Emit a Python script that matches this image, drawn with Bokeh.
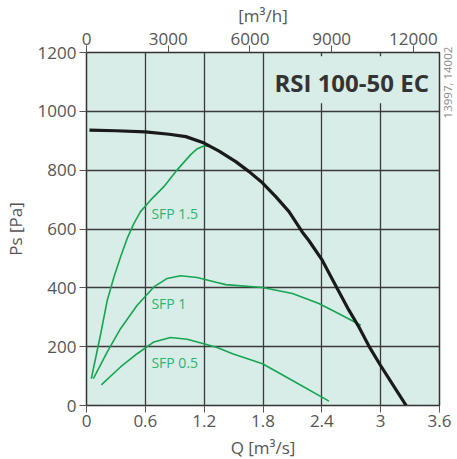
from math import pi
from bokeh.plotting import figure
from bokeh.models import Range1d, LinearAxis, FixedTicker, Label
from bokeh.embed import file_html
from bokeh.resources import INLINE

# Fan curve (Q in m3/s, Ps in Pa)
q_fan = [0.03, 0.3, 0.6, 0.843, 1.013, 1.2, 1.352, 1.522, 1.658, 1.794, 1.93, 2.065, 2.2, 2.269,
         2.404, 2.557, 2.676, 2.778, 2.88, 2.999, 3.117, 3.26]
p_fan = [936, 934, 930, 922, 914, 892, 865, 829, 795, 757, 710, 659, 590, 560,
         494, 398, 324, 267, 202, 136, 74, 0]

q_sfp15 = [0.049, 0.145, 0.212, 0.28, 0.347, 0.415, 0.484, 0.551, 0.653, 0.789, 0.925, 1.06, 1.13, 1.196, 1.268]
p_sfp15 = [91, 244, 358, 437, 505, 568, 619, 659, 698, 744, 801, 852, 873, 882, 880]

q_sfp1 = [0.07, 0.212, 0.347, 0.517, 0.687, 0.823, 0.958, 1.128, 1.332, 1.42, 1.795, 2.10, 2.37, 2.574, 2.797]
p_sfp1 = [91, 182, 261, 341, 403, 432, 441, 435, 418, 411, 401, 381, 347, 312, 273]

q_sfp05 = [0.151, 0.347, 0.517, 0.687, 0.856, 1.026, 1.196, 1.332, 1.49, 1.795, 2.10, 2.473]
p_sfp05 = [70, 131, 176, 216, 231, 225, 210, 197, 176, 142, 85, 15]

x_ticks = [0, 0.6, 1.2, 1.8, 2.4, 3.0, 3.6]
x_tick_labels = ["0", "0.6", "1.2", "1.8", "2.4", "3", "3.6"]
y_ticks = [0, 200, 400, 600, 800, 1000, 1200]
top_ticks = [0, 3000, 6000, 9000, 12000]

BG = "#d8ede8"
GREEN = "#16a550"
LABEL_GREEN = "#2fb36a"
TXT = "#555555"
FONT = "Open Sans"

p = figure(frame_width=353, frame_height=353, output_backend="svg", toolbar_location=None,
           x_range=Range1d(0, 3.6), y_range=Range1d(0, 1200),
           min_border_left=79, min_border_right=14, min_border_top=44, min_border_bottom=46)
p.background_fill_color = BG
p.border_fill_color = "white"
p.outline_line_color = "#333333"
p.outline_line_width = 1.5

p.extra_x_ranges = {"h": Range1d(0, 3.6 * 3600)}


def style_axis(ax):
    ax.major_tick_in = 0
    ax.major_tick_out = 7
    ax.minor_tick_line_color = None
    ax.major_tick_line_color = TXT
    ax.axis_line_color = "#333333"
    ax.major_label_text_font = FONT
    ax.major_label_text_font_size = "17px"
    ax.major_label_text_color = TXT
    ax.axis_label_text_font = FONT
    ax.axis_label_text_font_size = "17px"
    ax.axis_label_text_color = TXT
    ax.axis_label_text_font_style = "normal"


style_axis(p.xaxis[0])
style_axis(p.yaxis[0])

p.xaxis[0].ticker = FixedTicker(ticks=x_ticks)
p.xaxis[0].major_label_overrides = {t: s for t, s in zip(x_ticks, x_tick_labels)}
p.xaxis[0].axis_label = "Q [m³/s]"
p.xaxis[0].major_label_standoff = 2
p.xaxis[0].axis_label_standoff = 6

p.yaxis[0].ticker = FixedTicker(ticks=y_ticks)
p.yaxis[0].axis_label = "Ps [Pa]"
p.yaxis[0].major_label_standoff = 3
p.yaxis[0].axis_label_standoff = 8

top = LinearAxis(x_range_name="h", ticker=FixedTicker(ticks=top_ticks), axis_label="[m³/h]")
style_axis(top)
top.major_label_standoff = 1
top.axis_label_standoff = 3
p.add_layout(top, "above")

# small drawing number on the right edge, reading upwards
right = LinearAxis(ticker=FixedTicker(ticks=[976]), major_label_overrides={976: "13997, 14002"})
right.major_tick_line_color = None
right.minor_tick_line_color = None
right.axis_line_color = None
right.major_tick_out = 0
right.major_tick_in = 0
right.major_label_standoff = 8
right.major_label_orientation = pi / 2
right.major_label_text_font = FONT
right.major_label_text_font_size = "11.5px"
right.major_label_text_color = "#8a8a8a"
p.add_layout(right, "right")

p.xgrid.ticker = FixedTicker(ticks=x_ticks)
p.ygrid.ticker = FixedTicker(ticks=y_ticks)
for g in (p.xgrid[0], p.ygrid[0]):
    g.grid_line_color = "#3a3a3a"
    g.grid_line_width = 1.3

p.line(q_sfp05, p_sfp05, line_color=GREEN, line_width=1.6)
p.line(q_sfp1, p_sfp1, line_color=GREEN, line_width=1.6)
p.line(q_sfp15, p_sfp15, line_color=GREEN, line_width=1.6)
p.line(q_fan, p_fan, line_color="#1a1a1a", line_width=3.2)

for txt, x, y in (("SFP 1.5", 0.662, 651), ("SFP 1", 0.662, 347), ("SFP 0.5", 0.662, 146)):
    p.add_layout(Label(x=x, y=y, text=txt, text_font=FONT, text_font_size="14px",
                       text_color=LABEL_GREEN, text_baseline="alphabetic", text_align="left"))

p.add_layout(Label(x=1.855, y=1107, text="RSI 100-50 EC", text_font=FONT, text_font_size="24px",
                   text_font_style="bold", text_color="#333333", text_baseline="alphabetic",
                   text_align="left", background_fill_color=BG, padding=(6, 6, 10, 4)))

open("out.html", "w").write(file_html(p, INLINE))
